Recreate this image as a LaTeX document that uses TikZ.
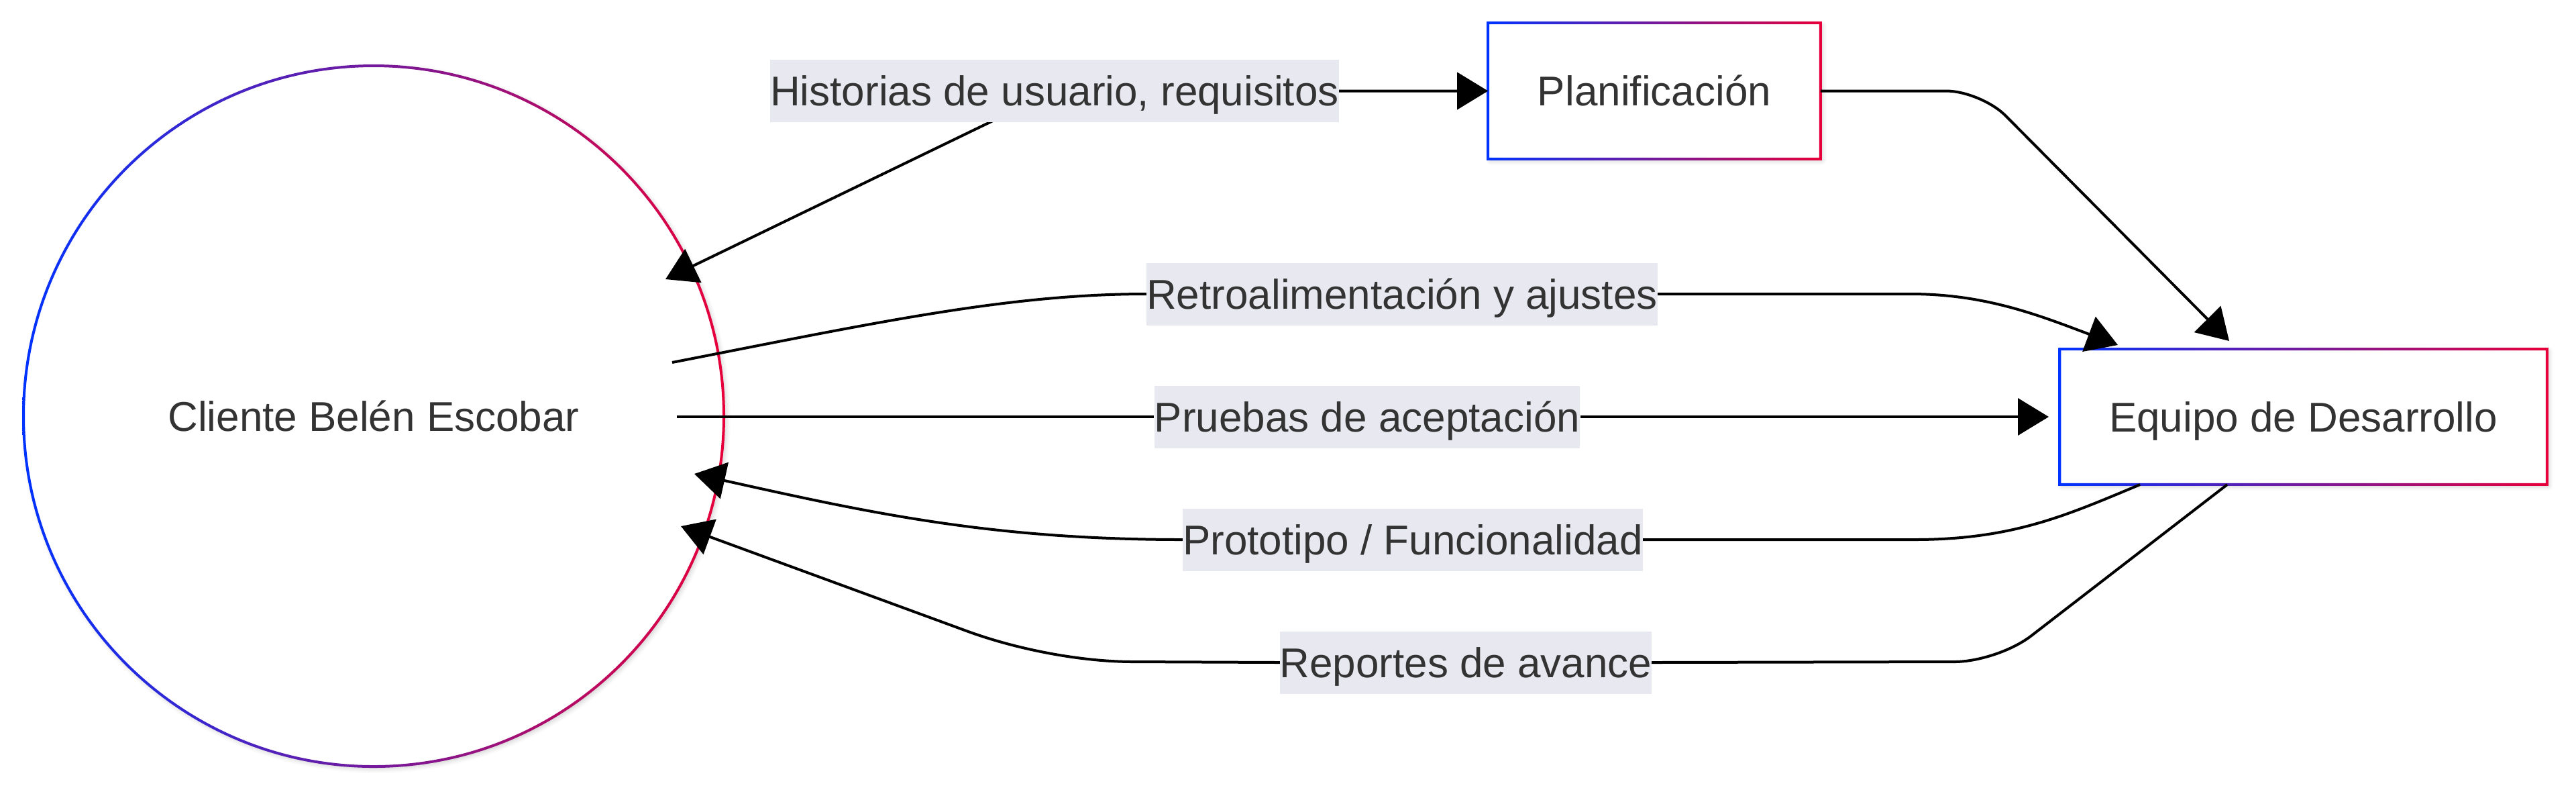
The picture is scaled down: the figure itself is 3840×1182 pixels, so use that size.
\documentclass[tikz,border=0pt]{standalone}
\usepackage{fontspec}
\setmainfont{Liberation Sans}
\usetikzlibrary{arrows.meta,shadows.blur}
\definecolor{gblue}{RGB}{0,51,255}
\definecolor{gred}{RGB}{232,0,58}
\definecolor{txt}{HTML}{333333}
\definecolor{labbg}{RGB}{232,232,240}
\pgfdeclarelayer{front}
\pgfsetlayers{main,front}
\begin{document}
\begin{tikzpicture}[x=0.25pt,y=-0.25pt,
  font=\fontsize{15.5pt}{18.6pt}\selectfont,
  txtnode/.style={text=txt, text height=11.1pt, text depth=0pt},
  proc/.style={txtnode, rectangle, fill=white, inner sep=0pt,
    blur shadow={shadow xshift=0.7pt, shadow yshift=-0.7pt, shadow blur radius=1.8pt, shadow opacity=22}},
  ring/.style={even odd rule, left color=gblue, right color=gred},
  elabel/.style={txtnode, fill=labbg, inner xsep=0pt, inner ysep=0pt, minimum height=23.25pt},
  conn/.style={line width=1pt, draw=black},
  >={Triangle[length=11.5pt,width=13.75pt]}
]
\useasboundingbox (0,0) rectangle (3840,1182);

% nodes
\node[proc, circle, minimum size=261pt] (cli) at (557,620) {Cliente Belén Escobar};
\shade[ring] (cli.center) circle[radius=131pt] (cli.center) circle[radius=130pt];

\node[proc, minimum width=123.5pt, minimum height=50.25pt] (plan) at (2466,135.5) {Planificación};
\shade[ring] ([xshift=-0.5pt,yshift=0.5pt]plan.north west) rectangle ([xshift=0.5pt,yshift=-0.5pt]plan.south east)
             ([xshift=0.5pt,yshift=-0.5pt]plan.north west) rectangle ([xshift=-0.5pt,yshift=0.5pt]plan.south east);

\node[proc, minimum width=181.25pt, minimum height=50pt] (dev) at (3433.5,621) {Equipo de Desarrollo};
\shade[ring] ([xshift=-0.5pt,yshift=0.5pt]dev.north west) rectangle ([xshift=0.5pt,yshift=-0.5pt]dev.south east)
             ([xshift=0.5pt,yshift=-0.5pt]dev.north west) rectangle ([xshift=-0.5pt,yshift=0.5pt]dev.south east);

% edge labels (on top)
\begin{pgfonlayer}{front}
\node[elabel] (l1) at (1572,135.5) {Historias de usuario, requisitos};
\node[elabel] (l2) at (2090,438) {Retroalimentación y ajustes};
\node[elabel] (l3) at (2038,621) {Pruebas de aceptación};
\node[elabel] (l4) at (2106,804) {Prototipo / Funcionalidad};
\node[elabel] (l5) at (2185,987) {Reportes de avance};
\end{pgfonlayer}

% connector end points
\coordinate (c1) at (992,416);
\coordinate (k2) at (2953,135.5);
\coordinate (t2) at (3323,508);
\coordinate (s3) at (1002,540);
\coordinate (t3) at (3157,514);
\coordinate (s4) at (1009,621);
\coordinate (t4) at (3054,621);
\coordinate (s5) at (3190,722);
\coordinate (t5) at (1035,706);
\coordinate (s6) at (3320,722);
\coordinate (t6) at (1015,784);

% connectors
\draw[conn,<->] (c1) -- (l1.center) -- (plan.west);
\draw[conn,->,rounded corners=13pt] (plan.east) -- (k2) -- (t2);
\draw[conn,->] (s3) .. controls (1300,482) and (1500,438) .. (l2.west) -- (l2.east)
   -- (2848,438) .. controls (2960,438) and (3040,470) .. (t3);
\draw[conn,->] (s4) -- (l3) -- (t4);
\draw[conn,->] (s5) .. controls (3080,768) and (3000,804) .. (2853,804) -- (l4.east) -- (l4.west)
   -- (1764,804) .. controls (1480,804) and (1300,765) .. (t5);
\draw[conn,->] (s6) -- (3027,948) .. controls (2995,972) and (2945,986) .. (2914,986) -- (l5.east) -- (l5.west)
   -- (1690,986) .. controls (1610,986) and (1513,967) .. (1438,939) -- (t6);
\end{tikzpicture}
\end{document}
